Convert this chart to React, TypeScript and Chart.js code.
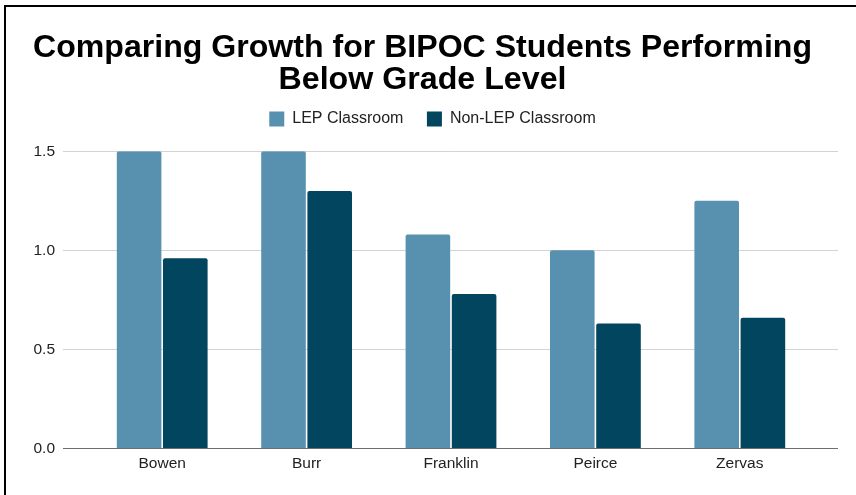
import React, { useEffect, useRef } from "react";
import { Chart, registerables } from "chart.js";

Chart.register(...registerables);

const schools = ["Bowen", "Burr", "Franklin", "Peirce", "Zervas"];
const lepValues = [1.5, 1.5, 1.08, 1.0, 1.25];
const nonLepValues = [0.96, 1.3, 0.78, 0.63, 0.66];
const seriesNames = ["LEP Classroom", "Non-LEP Classroom"];
const titleLines = ["Comparing Growth for BIPOC Students Performing", "Below Grade Level"];
const yTicks = [0, 0.5, 1.0, 1.5];

const FONT = "'Liberation Sans', Arial, sans-serif";

const extendedGrid = {
  id: "extendedGrid",
  beforeInit(chart: any) {
    const lg = chart.legend;
    if (lg && !lg.__patched) {
      const origFit = lg.fit;
      lg.fit = function () {
        origFit.call(this);
        this.height += 14.3;
      };
      const origDraw = lg.draw;
      lg.draw = function (...args: any[]) {
        const c = this.ctx;
        c.save();
        c.translate(10, 0);
        origDraw.apply(this, args);
        c.restore();
      };
      lg.__patched = true;
    }
  },
  beforeDatasetsDraw(chart: any) {
    const { ctx, chartArea, scales } = chart;
    const y = scales.y;
    const left = chartArea.left - 27;
    const right = chartArea.right + 26;
    ctx.save();
    ctx.lineWidth = 1;
    ctx.strokeStyle = "#d3d3d3";
    y.ticks.forEach((t: any) => {
      if (t.value === 0) return;
      const py = Math.round(y.getPixelForValue(t.value)) + 0.5;
      ctx.beginPath();
      ctx.moveTo(left, py);
      ctx.lineTo(right, py);
      ctx.stroke();
    });
    ctx.restore();
  },
  afterDatasetsDraw(chart: any) {
    const { ctx, chartArea, scales } = chart;
    const y = scales.y;
    const left = chartArea.left - 27;
    const right = chartArea.right + 26;
    const py = Math.round(y.getPixelForValue(0)) + 0.5;
    ctx.save();
    ctx.lineWidth = 1.2;
    ctx.strokeStyle = "#6f6f6f";
    ctx.beginPath();
    ctx.moveTo(left, py);
    ctx.lineTo(right, py);
    ctx.stroke();
    ctx.restore();
  },
};

export default function App() {
  const ref = useRef<HTMLCanvasElement | null>(null);

  useEffect(() => {
    document.body.style.margin = "0";
    if (!ref.current) return;
    const chart = new Chart(ref.current, {
      type: "bar",
      data: {
        labels: schools,
        datasets: [
          {
            label: seriesNames[0],
            data: lepValues,
            backgroundColor: "#5891af",
            borderRadius: 2,
            categoryPercentage: 0.64,
            barPercentage: 0.965,
          },
          {
            label: seriesNames[1],
            data: nonLepValues,
            backgroundColor: "#02455f",
            borderRadius: 2,
            categoryPercentage: 0.64,
            barPercentage: 0.965,
          },
        ],
      },
      options: {
        responsive: false,
        animation: false,
        layout: { padding: { left: 33, right: 44, top: 0, bottom: 16 } },
        plugins: {
          title: {
            display: true,
            text: titleLines,
            color: "#000",
            font: { family: FONT, size: 32.2, weight: "bold", lineHeight: 32 / 32.2 },
            padding: { top: 32, bottom: -8.5 },
          },
          legend: {
            display: true,
            labels: {
              boxWidth: 15,
              boxHeight: 15,
              padding: 23.5,
              color: "#222",
              font: { family: FONT, size: 16 },
            },
          },
          tooltip: { enabled: false },
        },
        scales: {
          x: {
            grid: { display: false, drawTicks: false },
            border: { display: false },
            ticks: { color: "#222", font: { family: FONT, size: 15.5 }, padding: 6 },
          },
          y: {
            min: 0,
            max: 1.5,
            afterBuildTicks: (scale: any) => {
              scale.ticks = yTicks.map((v) => ({ value: v }));
            },
            afterFit: (scale: any) => {
              scale.width = 57;
            },
            grid: { display: false, drawTicks: false },
            border: { display: false },
            ticks: {
              color: "#222",
              font: { family: FONT, size: 15.5 },
              padding: 35,
              callback: (v: any) => Number(v).toFixed(1),
            },
          },
        },
      },
      plugins: [extendedGrid],
    });
    return () => chart.destroy();
  }, []);

  return (
    <div style={{ position: "fixed", left: 0, top: 0, width: 856, height: 495, background: "#fff" }}>
      <canvas ref={ref} width={856} height={495} style={{ display: "block" }} />
      <div
        style={{
          position: "absolute",
          left: 4,
          top: 5,
          right: 0,
          bottom: 0,
          borderLeft: "2px solid #000",
          borderTop: "2px solid #000",
          pointerEvents: "none",
        }}
      />
    </div>
  );
}
